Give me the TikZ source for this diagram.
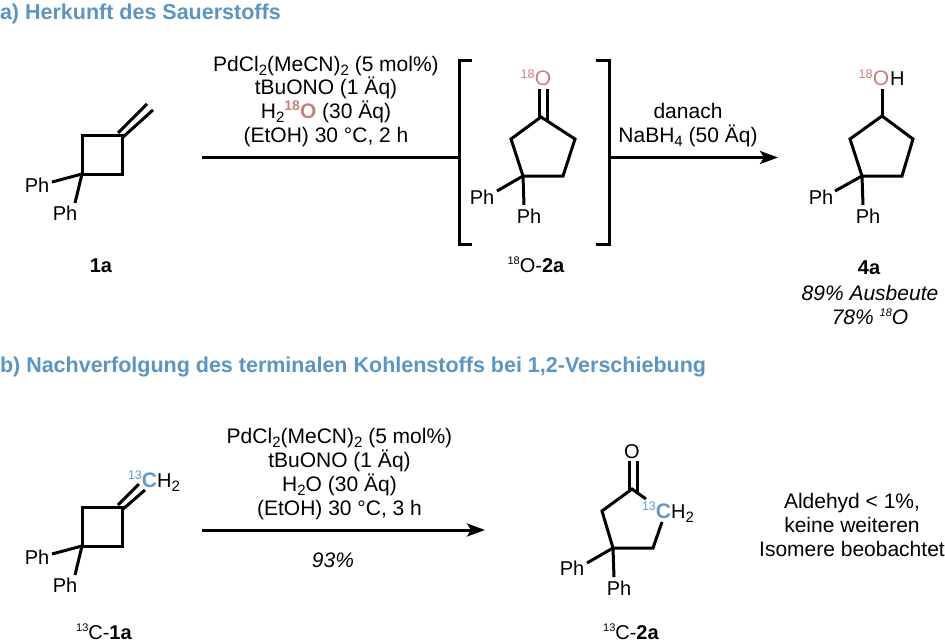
\documentclass[tikz,border=0pt]{standalone}
\usepackage{fontspec}
\setmainfont{Liberation Sans}
\usetikzlibrary{arrows.meta}
\definecolor{headblue}{RGB}{92,150,192}
\definecolor{isoblue}{RGB}{98,152,196}
\definecolor{isopink}{RGB}{200,128,124}
\newcommand\fs[1]{\fontsize{#1}{#1}\selectfont}
\newcommand\isotop[1]{\raisebox{7.5pt}{\fs{12.5}#1}}
\newcommand\isosm[1]{\raisebox{8pt}{\fs{11}#1}}
\newcommand\subs[1]{\raisebox{-4.5pt}{\fs{15}#1}}
\tikzset{
  bond/.style={line width=3pt,line cap=butt,line join=miter,black},
  arrowline/.style={line width=3pt,black},
  arrowhead/.style={arrowline,-{Stealth[length=18pt,width=13pt,inset=4pt]}},
  lbl/.style={anchor=base,inner sep=0pt,outer sep=0pt,font=\fs{20}},
  reag/.style={anchor=base,inner sep=0pt,outer sep=0pt,font=\fs{21}},
  head/.style={anchor=base west,inner sep=0pt,outer sep=0pt,font=\fs{21.5}\bfseries,text=headblue},
}
\begin{document}
\begin{tikzpicture}[x=1pt,y=-1pt]
\useasboundingbox (0,0) rectangle (945,642);
\fill[white] (0,0) rectangle (945,642);

% headings
\node[head] (ha) at (0,20) {a) Herkunft des Sauerstoffs};
\node[head] (hb) at (0,372) {b) Nachverfolgung des terminalen Kohlenstoffs bei 1,2-Verschiebung};

% 1a
\draw[bond] (82,135) rectangle (122,174);
\draw[bond] (118,133) -- (147,104);
\draw[bond] (122,138) -- (153,110);
\node[lbl] (pa1) at (37,192) {Ph};
\node[lbl] (pa2) at (65,220) {Ph};
\draw[bond] (82,174) -- (52,182);
\draw[bond] (82,174) -- (75,203);
\node[lbl,font=\fs{20}\bfseries] (la) at (101,272) {1a};

% reagents a
\node[reag] (ra1) at (326,71) {PdCl\subs{2}(MeCN)\subs{2} (5 mol\%)};
\node[reag] (ra2) at (326,94.5) {tBuONO (1 Äq)};
\node[reag] (ra3) at (326,118) {H\subs{2}\textcolor{isopink}{\raisebox{7.5pt}{\fs{14}\bfseries 18}\textbf{O}} (30 Äq)};
\node[reag] (ra4) at (326,142) {(EtOH) 30 °C, 2 h};

% arrow a
\coordinate (a0) at (202,157.5);
\coordinate (a1) at (459,157.5);
\coordinate (a2) at (609,157.5);
\coordinate (a3) at (778,157.5);
\draw[arrowline] (a0) -- (a1);
\draw[arrowhead] (a2) -- (a3);
\node[reag] (ra5) at (688,118) {danach};
\node[reag] (ra6) at (688,142) {NaBH\subs{4} (50 Äq)};

% brackets
\draw[bond] (472,61) -- (459,61) -- (459,244) -- (472,244);
\draw[bond] (596,61) -- (609,61) -- (609,244) -- (596,244);

% 18O-2a
\draw[bond] (511,139) -- (541,117) -- (575,139) -- (563,176) -- (523,176) -- cycle;
\draw[bond] (539,117) -- (539,89);
\draw[bond] (547,120) -- (547,89);
\node[lbl,text=isopink] (oa) at (543,85.5) {\makebox[0pt][r]{\isotop{18}\hspace{8.5pt}}\makebox[0pt]{\fs{21}O}};
\node[lbl] (pb1) at (482,204) {Ph};
\node[lbl] (pb2) at (529,223) {Ph};
\draw[bond] (523,176) -- (497,191);
\draw[bond] (523,176) -- (524,205);
\node[lbl] (lb) at (536,272) {\isosm{18}O-\textbf{2a}};

% 4a
\draw[bond] (850,139) -- (882,116) -- (913,139) -- (902,176) -- (862,176) -- cycle;
\draw[bond] (882,117) -- (882,89);
\node[lbl] (ohc) at (881,85.5) {\textcolor{isopink}{\makebox[0pt][r]{\isotop{18}\hspace{8.5pt}}\makebox[0pt]{\fs{21}O}}\makebox[0pt][l]{\hspace{9pt}H}};
\node[lbl] (pc1) at (821,204) {Ph};
\node[lbl] (pc2) at (868,223) {Ph};
\draw[bond] (862,176) -- (835,191);
\draw[bond] (862,176) -- (863,205);
\node[lbl,font=\fs{20}\bfseries] (lc) at (869,274) {4a};
\node[reag,font=\fs{21}\itshape] (ld) at (870,300) {89\% Ausbeute};
\node[reag,font=\fs{21}\itshape] (le) at (870,324) {78\% \isosm{18}O};

% 13C-1a
\draw[bond] (82,507) rectangle (122,546);
\draw[bond] (118,505) -- (139,484);
\draw[bond] (122,510) -- (145,490);
\node[lbl,anchor=base west] (cha) at (128,487) {\textcolor{isoblue}{\isotop{13}{\fs{21}\bfseries C}}H\subs{2}};
\node[lbl] (pd1) at (37,564) {Ph};
\node[lbl] (pd2) at (65,592) {Ph};
\draw[bond] (82,546) -- (52,554);
\draw[bond] (82,546) -- (75,575);
\node[lbl] (lf) at (104,639) {\isosm{13}C-\textbf{1a}};

% reagents b
\node[reag] (rb1) at (339.5,443) {PdCl\subs{2}(MeCN)\subs{2} (5 mol\%)};
\node[reag] (rb2) at (339.5,467) {tBuONO (1 Äq)};
\node[reag] (rb3) at (339.5,491) {H\subs{2}O (30 Äq)};
\node[reag] (rb4) at (339.5,515) {(EtOH) 30 °C, 3 h};
\coordinate (b0) at (202,530);
\coordinate (b1) at (485,530);
\draw[arrowhead] (b0) -- (b1);
\node[reag,font=\fs{21}\itshape] (rb5) at (333,567) {93\%};

% 13C-2a
\draw[bond] (646,499) -- (632,489) -- (602,511) -- (613,548) -- (653,548) -- (662,522);
\draw[bond] (629,490) -- (629,461);
\draw[bond] (637,492) -- (637,461);
\node[lbl] (ob) at (632,458) {O};
\node[lbl,anchor=base west] (chb) at (642,518) {\textcolor{isoblue}{\isotop{13}{\fs{21}\bfseries C}}H\subs{2}};
\node[lbl] (pe1) at (572,575) {Ph};
\node[lbl] (pe2) at (619,595) {Ph};
\draw[bond] (613,548) -- (587,563);
\draw[bond] (613,548) -- (614,577);
\node[lbl] (lg) at (631,639) {\isosm{13}C-\textbf{2a}};

% note
\node[reag] (n1) at (852,508) {Aldehyd < 1\%,};
\node[reag] (n2) at (852,532) {keine weiteren};
\node[reag] (n3) at (852,556) {Isomere beobachtet};
\end{tikzpicture}
\end{document}
